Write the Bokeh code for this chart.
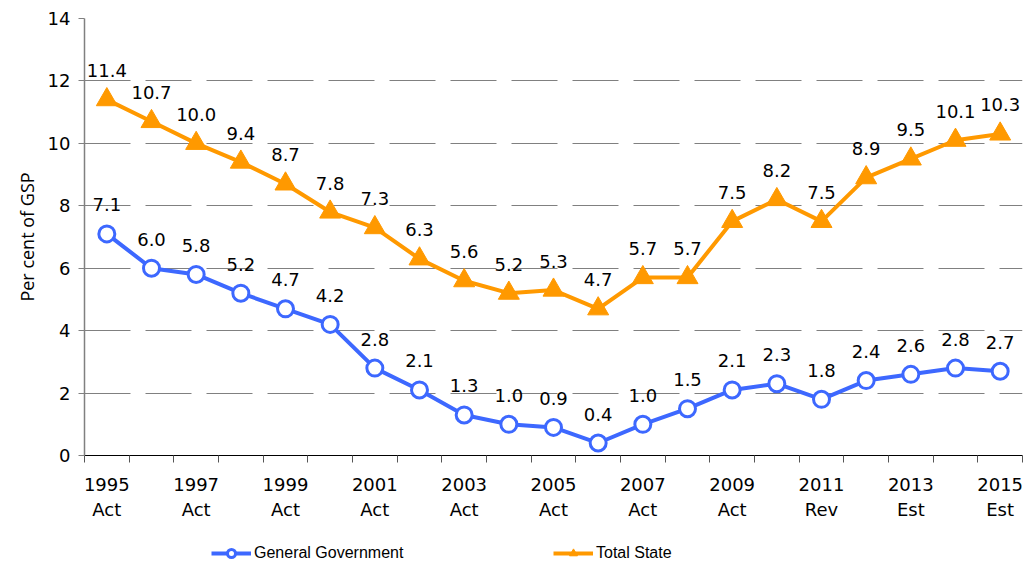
from bokeh.plotting import figure
from bokeh.layouts import column
from bokeh.models import Range1d, FixedTicker, Legend, LegendItem
from bokeh.embed import file_html
from bokeh.resources import INLINE
from bokeh.core.properties import value

years = list(range(1995, 2016))
label_years = ["1995", "1997", "1999", "2001", "2003", "2005", "2007", "2009", "2011", "2013", "2015"]
label_status = ["Act", "Act", "Act", "Act", "Act", "Act", "Act", "Act", "Rev", "Est", "Est"]
general_government = [7.1, 6.0, 5.8, 5.2, 4.7, 4.2, 2.8, 2.1, 1.3, 1.0, 0.9, 0.4, 1.0, 1.5, 2.1, 2.3, 1.8, 2.4, 2.6, 2.8, 2.7]
total_state = [11.4, 10.7, 10.0, 9.4, 8.7, 7.8, 7.3, 6.3, 5.6, 5.2, 5.3, 4.7, 5.7, 5.7, 7.5, 8.2, 7.5, 8.9, 9.5, 10.1, 10.3]
series_names = ["General Government", "Total State"]
y_ticks = [0, 2, 4, 6, 8, 10, 12, 14]

BLUE = "#3D68FF"
ORANGE = "#FF9900"
FONT = "DejaVu Sans"

n = len(years)
xs = [i + 0.5 for i in range(n)]

p = figure(width=1026, height=522, x_range=Range1d(0, n), y_range=Range1d(0, 14),
           output_backend="svg", toolbar_location=None,
           min_border_left=84, min_border_right=4, min_border_top=18, min_border_bottom=64)
p.outline_line_color = None
p.background_fill_color = "white"

# grid
p.xgrid.visible = False
p.ygrid.ticker = FixedTicker(ticks=y_ticks)
p.ygrid.grid_line_color = "#808080"
p.ygrid.grid_line_dash = "46 15"
p.ygrid.grid_line_width = 1

# y axis
p.yaxis.ticker = FixedTicker(ticks=y_ticks)
p.yaxis.axis_line_color = "#808080"
p.yaxis.axis_line_width = 1.5
p.yaxis.major_tick_line_color = "#808080"
p.yaxis.major_tick_out = 6
p.yaxis.major_tick_in = 0
p.yaxis.minor_tick_line_color = None
p.yaxis.major_label_text_font = FONT
p.yaxis.major_label_text_font_size = "18px"
p.yaxis.major_label_text_color = "black"
p.yaxis.major_label_standoff = 8
p.yaxis.axis_label = "Per cent of GSP"
p.yaxis.axis_label_text_font = "Open Sans"
p.yaxis.axis_label_text_font_size = "18px"
p.yaxis.axis_label_text_font_style = "normal"
p.yaxis.axis_label_text_color = "black"
p.yaxis.axis_label_standoff = 6

# x axis
label_pos = [years.index(int(y)) + 0.5 for y in label_years]
p.xaxis.ticker = FixedTicker(ticks=label_pos, minor_ticks=list(range(n + 1)))
p.xaxis.major_label_overrides = {pos: f"{y}\n{s}" for pos, y, s in zip(label_pos, label_years, label_status)}
p.xaxis.axis_line_color = "black"
p.xaxis.axis_line_width = 1
p.xaxis.major_tick_out = 0
p.xaxis.major_tick_in = 0
p.xaxis.minor_tick_out = 7
p.xaxis.minor_tick_in = 0
p.xaxis.minor_tick_line_color = "#555555"
p.xaxis.major_label_text_font = FONT
p.xaxis.major_label_text_font_size = "18px"
p.xaxis.major_label_text_color = "black"
p.xaxis.major_label_standoff = 11

# series
p.line(xs, total_state, line_color=ORANGE, line_width=4)
p.scatter(xs, total_state, marker="triangle", size=21, fill_color=ORANGE, line_color=ORANGE)
p.line(xs, general_government, line_color=BLUE, line_width=4)
p.scatter(xs, general_government, marker="circle", size=16, fill_color="white", line_color=BLUE, line_width=3)

p.text(xs, total_state, text=[f"{v:.1f}" for v in total_state], y_offset=-29,
       text_align="center", text_baseline="middle", text_font=value(FONT), text_font_size="18px", text_color="black")
p.text(xs, general_government, text=[f"{v:.1f}" for v in general_government], y_offset=-29,
       text_align="center", text_baseline="middle", text_font=value(FONT), text_font_size="18px", text_color="black")

# legend strip below the chart (series drawn out of view; only the legend shows)
lg = figure(width=1026, height=41, x_range=Range1d(0, n), y_range=Range1d(-100, -99),
            output_backend="svg", toolbar_location=None, x_axis_location=None, y_axis_location=None,
            min_border_left=0, min_border_right=0, min_border_top=0, min_border_bottom=0)
lg.outline_line_color = None
lg.xgrid.visible = False
lg.ygrid.visible = False
gg_line = lg.line(xs, general_government, line_color=BLUE, line_width=4)
gg_pts = lg.scatter(xs, general_government, marker="circle", size=14, fill_color="white", line_color=BLUE, line_width=3)
ts_line = lg.line(xs, total_state, line_color=ORANGE, line_width=4)
ts_pts = lg.scatter(xs, total_state, marker="triangle", size=18, fill_color=ORANGE, line_color=ORANGE)

legend = Legend(items=[LegendItem(label=series_names[0], renderers=[gg_line, gg_pts]),
                       LegendItem(label=series_names[1], renderers=[ts_line, ts_pts])],
                orientation="horizontal", location=(127, 0), border_line_color=None,
                background_fill_alpha=0, glyph_width=40, glyph_height=20, label_standoff=3,
                label_width=299, label_text_font="Liberation Sans", label_text_font_size="16px",
                label_text_color="black", spacing=0, padding=4, margin=0)
lg.add_layout(legend, "center")

layout = column(p, lg, spacing=0)
open("out.html", "w").write(file_html(layout, INLINE))
